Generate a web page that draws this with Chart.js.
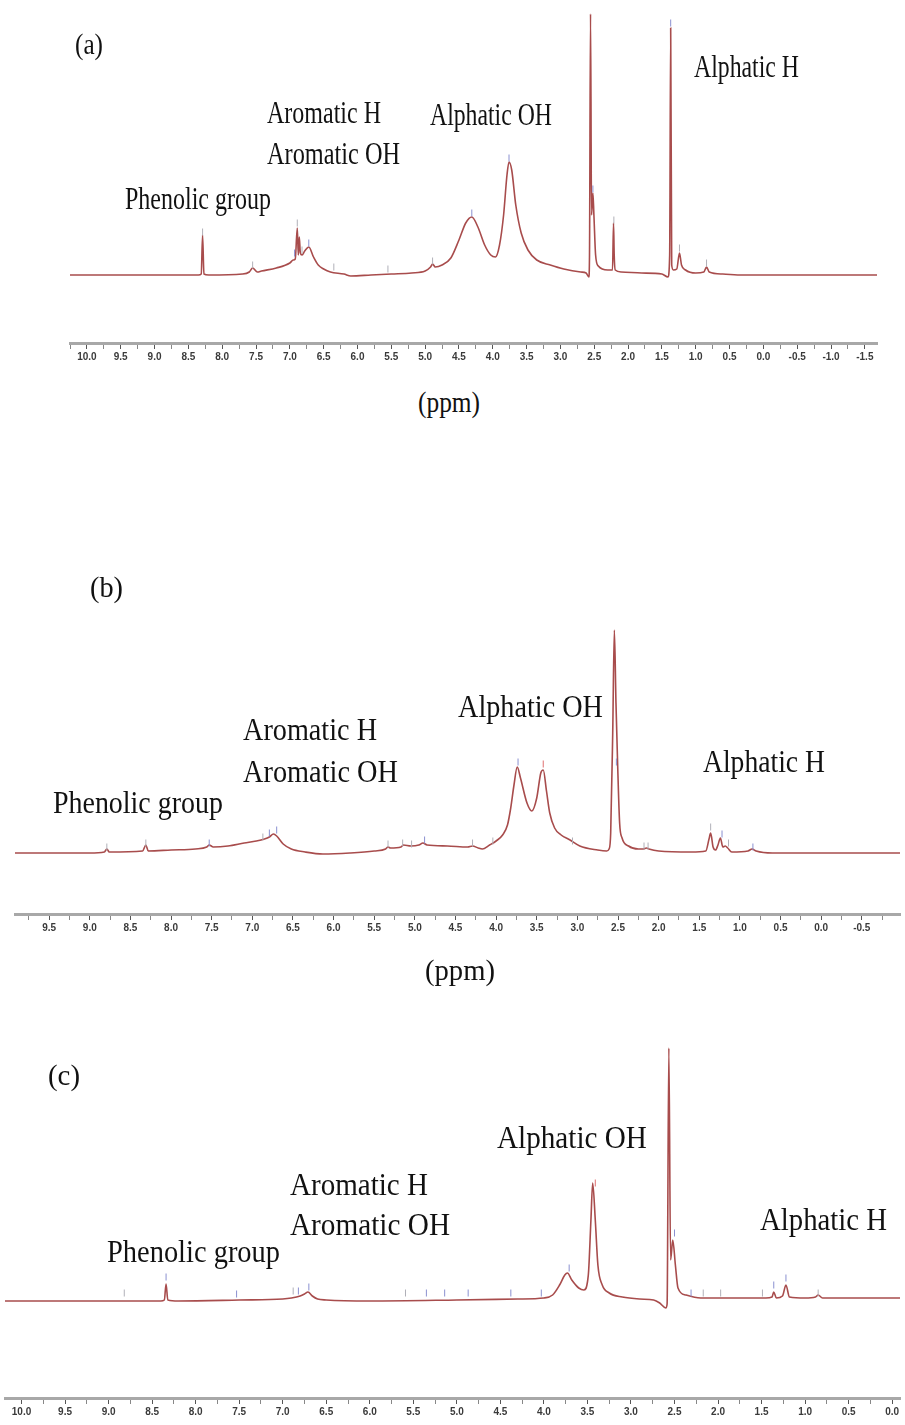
<!DOCTYPE html>
<html><head><meta charset="utf-8">
<script src="https://cdn.jsdelivr.net/npm/chart.js@4.4.0/dist/chart.umd.min.js"></script>
<style>
html,body{margin:0;padding:0;background:#fff;}
#wrap{position:relative;width:905px;height:1425px;overflow:hidden;background:#fff;}
canvas{position:absolute;left:0;}
.lbl{position:absolute;white-space:nowrap;font-family:'Liberation Serif','Times New Roman',serif;color:#111;line-height:1;transform-origin:0 0;}
</style></head><body>
<div id="wrap">
<canvas id="ca" width="905" height="380" style="top:0px"></canvas>
<canvas id="cb" width="905" height="400" style="top:560px"></canvas>
<canvas id="cc" width="905" height="395" style="top:1030px"></canvas>
</div>
<script>
// ---------- DATA ----------
// Panel (a): chemical shift (ppm) and relative intensity (arb. units, baseline = 0)
const ppmA = [10.25,9.0,8.35,8.31,8.29,8.27,8.2,7.7,7.6,7.55,7.48,7.42,7.2,7.0,6.95,6.92,6.89,6.875,6.86,6.845,6.82,6.78,6.72,6.65,6.58,6.5,6.4,6.2,6.1,5.8,5.5,5.2,5.0,4.92,4.89,4.85,4.75,4.62,4.5,4.4,4.31,4.22,4.12,4.03,3.96,3.9,3.84,3.79,3.76,3.72,3.66,3.58,3.48,3.35,3.15,2.95,2.7,2.62,2.58,2.57,2.555,2.54,2.52,2.505,2.48,2.44,2.3,2.23,2.215,2.205,2.19,2.1,1.8,1.5,1.41,1.385,1.37,1.355,1.33,1.28,1.24,1.21,1.15,1.0,0.88,0.84,0.8,0.6,0.3,-1.68];
const intA = [0,0,0,1,40,1,0,1,3,7,3,4,7,12,15,16,47,20,38,22,20,24,28,18,10,6,3,1,-1,0,1,2,4,8,11,8,10,17,35,52,58,48,30,20,18,30,60,100,113,105,70,42,25,15,10,6,3,2,-2,20,261,60,82,60,20,9,5,5,52,20,5,3,2,1,-2,20,247,10,5,6,22,10,5,2,3,8,3,1,0,0];
const markBlueA = {ppm:[6.93,6.72,4.31,3.76,2.52,1.37], val:[22,32,62,117,86,252]};
const markGrayA = {ppm:[8.29,7.55,6.89,6.82,6.35,5.55,4.89,2.21,1.24,0.84], val:[43,10,52,25,8,6,14,55,27,12]};
const tickLabelsA = ['10.0','9.5','9.0','8.5','8.0','7.5','7.0','6.5','6.0','5.5','5.0','4.5','4.0','3.5','3.0','2.5','2.0','1.5','1.0','0.5','0.0','-0.5','-1.0','-1.5'];
const textsA = ['(a)','Phenolic group','Aromatic H','Aromatic OH','Alphatic OH','Alphatic H','(ppm)'];

// Panel (b)
const ppmB = [9.92,9.0,8.82,8.79,8.76,8.35,8.31,8.28,8.0,7.7,7.56,7.53,7.48,7.3,7.1,6.95,6.85,6.79,6.74,6.70,6.62,6.52,6.35,6.13,5.8,5.5,5.36,5.33,5.3,5.17,5.14,5.05,4.95,4.9,4.85,4.6,4.35,4.29,4.22,4.17,4.08,4.0,3.92,3.86,3.82,3.78,3.74,3.70,3.62,3.56,3.5,3.45,3.42,3.38,3.34,3.28,3.2,3.09,2.97,2.75,2.64,2.61,2.59,2.565,2.545,2.525,2.505,2.48,2.45,2.37,2.25,2.19,2.15,2.12,2.0,1.6,1.42,1.38,1.36,1.33,1.30,1.27,1.24,1.21,1.18,1.15,1.1,0.9,0.85,0.8,0.6,-0.97];
const intB = [0,0,1,4,1,2,8,2,3,4,6,8,6,7,10,12,14,16,19,17,9,4,1,-1,0,2,4,6,5,6,8,7,8,10,8,7,6,7,5,4,8,12,18,28,45,68,86,75,50,42,55,80,83,62,40,25,18,13,7,3,2,4,20,120,223,150,90,30,15,7,4,4,5,4,2,1,2,14,20,6,3,8,15,6,7,5,1,2,4,2,0,0];
const markBlueB = {ppm:[7.53,6.79,6.70,4.88,3.73,2.52,1.22,0.84], val:[10,20,23,13,91,91,19,6]};
const markGrayB = {ppm:[8.79,8.31,6.87,5.33,5.15,5.04,4.29,4.04,3.06,2.18,2.13,1.36,1.14], val:[6,10,16,9,10,9,10,12,12,7,7,26,10]};
const markRedB = {ppm:[3.42], val:[89]};
const tickLabelsB = ['9.5','9.0','8.5','8.0','7.5','7.0','6.5','6.0','5.5','5.0','4.5','4.0','3.5','3.0','2.5','2.0','1.5','1.0','0.5','0.0','-0.5'];
const textsB = ['(b)','Phenolic group','Aromatic H','Aromatic OH','Alphatic OH','Alphatic H','(ppm)'];

// Panel (c)
const ppmC = [10.19,9.0,8.4,8.36,8.34,8.32,8.2,7.5,7.0,6.9,6.8,6.75,6.71,6.66,6.6,6.5,6.0,5.0,4.3,4.0,3.9,3.82,3.76,3.73,3.68,3.6,3.54,3.49,3.46,3.44,3.41,3.38,3.33,3.25,3.1,2.9,2.74,2.67,2.6,2.585,2.565,2.545,2.52,2.49,2.46,2.37,2.2,1.45,1.38,1.36,1.33,1.26,1.22,1.18,1.0,0.88,0.85,0.8,0.5,-0.09];
const intC = [-1,-1,-1,0,16,0,-1,0,1,2,4,6,8,4,1,0,-1,0,1,2,5,15,25,27,20,12,10,25,80,117,80,35,15,7,3,1,0,-3,-8,-4,252,40,60,35,12,5,2,2,3,8,2,4,15,3,2,3,5,2,2,2];
const markBlueC = {ppm:[8.34,7.53,6.82,6.70,5.35,5.14,4.87,4.38,4.03,3.71,2.50,2.31,1.36,1.22], val:[23,6,9,13,7,7,7,7,7,32,67,7,15,22]};
const markGrayC = {ppm:[8.82,6.88,5.59,2.17,1.97,1.49,0.85], val:[7,9,7,7,7,7,7]};
const markRedC = {ppm:[3.41], val:[117]};
const tickLabelsC = ['10.0','9.5','9.0','8.5','8.0','7.5','7.0','6.5','6.0','5.5','5.0','4.5','4.0','3.5','3.0','2.5','2.0','1.5','1.0','0.5','0.0'];
const textsC = ['(c)','Phenolic group','Aromatic H','Aromatic OH','Alphatic OH','Alphatic H'];

// ---------- LAYOUT / STYLE ----------
const LINE_COLOR = '#a84c4c';
const layouts = [
  {id:'ca', ppm:ppmA, val:intA, marks:[[markBlueA,'#8a90d0'],[markGrayA,'#b0b0b8']], ticks:tickLabelsA,
   xmin:-1.68, xmax:10.25, ymin:-68, ymax:265, pad:{left:70,right:28,top:10,bottom:0}, scaleH:37},
  {id:'cb', ppm:ppmB, val:intB, marks:[[markBlueB,'#8a90d0'],[markGrayB,'#b0b0b8'],[markRedB,'#e07070']], ticks:tickLabelsB,
   xmin:-0.97, xmax:9.92, ymin:-61, ymax:233, pad:{left:15,right:0,top:60,bottom:0}, scaleH:46},
  {id:'cc', ppm:ppmC, val:intC, marks:[[markBlueC,'#8a90d0'],[markGrayC,'#b0b0b8'],[markRedC,'#e07070']], ticks:tickLabelsC,
   xmin:-0.09, xmax:10.19, ymin:-98, ymax:260, pad:{left:5,right:0,top:10,bottom:0}, scaleH:27}
];

function buildTicks(labels, xmin, xmax){
  const majors = labels.map(Number);
  const set = new Set();
  majors.forEach(v=>{ set.add(v); set.add(v+0.25); set.add(v-0.25); });
  return Array.from(set).filter(v=>v>=xmin && v<=xmax).sort((a,b)=>b-a);
}

layouts.forEach(L=>{
  const majorVals = L.ticks.map(Number);
  const isMajor = v => majorVals.some(m=>Math.abs(m-v)<1e-6);
  const labelOf = v => { const i = majorVals.findIndex(m=>Math.abs(m-v)<1e-6); return i>=0 ? L.ticks[i] : ''; };
  const allTicks = buildTicks(L.ticks, L.xmin, L.xmax);
  const datasets = [{
    type:'line',
    data:L.ppm.map((x,i)=>({x:x,y:L.val[i]})),
    borderColor:LINE_COLOR, borderWidth:1.6, pointRadius:0, fill:false,
    cubicInterpolationMode:'monotone', order:2
  }];
  L.marks.forEach(([m,col])=>{
    datasets.push({type:'scatter', data:m.ppm.map((x,i)=>({x:x,y:m.val[i]})),
      pointStyle:'line', rotation:90, pointRadius:3.5, borderColor:col, backgroundColor:col, borderWidth:1, showLine:false, order:1});
  });
  new Chart(document.getElementById(L.id), {
    data:{datasets:datasets},
    options:{
      responsive:false, animation:false, events:[],
      layout:{padding:L.pad},
      plugins:{legend:{display:false}, tooltip:{enabled:false}},
      scales:{
        x:{type:'linear', reverse:true, min:L.xmin, max:L.xmax,
          afterBuildTicks: s => { s.ticks = allTicks.map(v=>({value:v})); },
          afterFit: s => { s.height = L.scaleH; },
          border:{display:true, color:'#a8a8a8', width:3},
          grid:{drawOnChartArea:false, drawTicks:true, tickLength:6,
            color: c => (c.tick && isMajor(c.tick.value)) ? '#555' : '#888',
            tickBorderDash: c => (c.tick && isMajor(c.tick.value)) ? [] : [4,30],
            lineWidth:1},
          ticks:{autoSkip:false, maxRotation:0, minRotation:0, padding:2, color:'#3a3a3a',
            font:{family:"'Liberation Sans Narrow','Liberation Sans',sans-serif", size:10, weight:'bold'},
            callback: v => labelOf(v)}
        },
        y:{display:false, min:L.ymin, max:L.ymax}
      }
    }
  });
});

// ---------- TEXT LABELS ----------
// placement: [left, baseline, target width, font size]
const place = {
  a:[[75,54,28,30],[125,209,146,32],[267,123,114,32],[267,164,133,32],[430,125,122,32],[694,77,105,32],[418,412,62,30]],
  b:[[90,597,33,30],[53,813,170,32],[243,740,134,32],[243,782,155,32],[458,717,145,32],[703,772,122,32],[425,980,70,30]],
  c:[[48,1085,32,30],[107,1262,173,32],[290,1195,138,32],[290,1235,160,32],[497,1148,150,32],[760,1230,127,32]]
};
const mctx = document.createElement('canvas').getContext('2d');
const wrap = document.getElementById('wrap');
[[textsA,place.a],[textsB,place.b],[textsC,place.c]].forEach(([txts,pl])=>{
  txts.forEach((t,i)=>{
    const [x,base,w,fs] = pl[i];
    const d = document.createElement('div');
    d.className='lbl';
    d.textContent=t;
    d.style.fontSize=fs+'px';
    d.style.left=x+'px';
    d.style.top=(base-0.8375*fs)+'px';
    mctx.font = fs+"px 'Liberation Serif'";
    const mw = mctx.measureText(t).width;
    d.style.transform='scaleX('+(w/mw).toFixed(3)+')';
    wrap.appendChild(d);
  });
});
</script>
</body></html>
